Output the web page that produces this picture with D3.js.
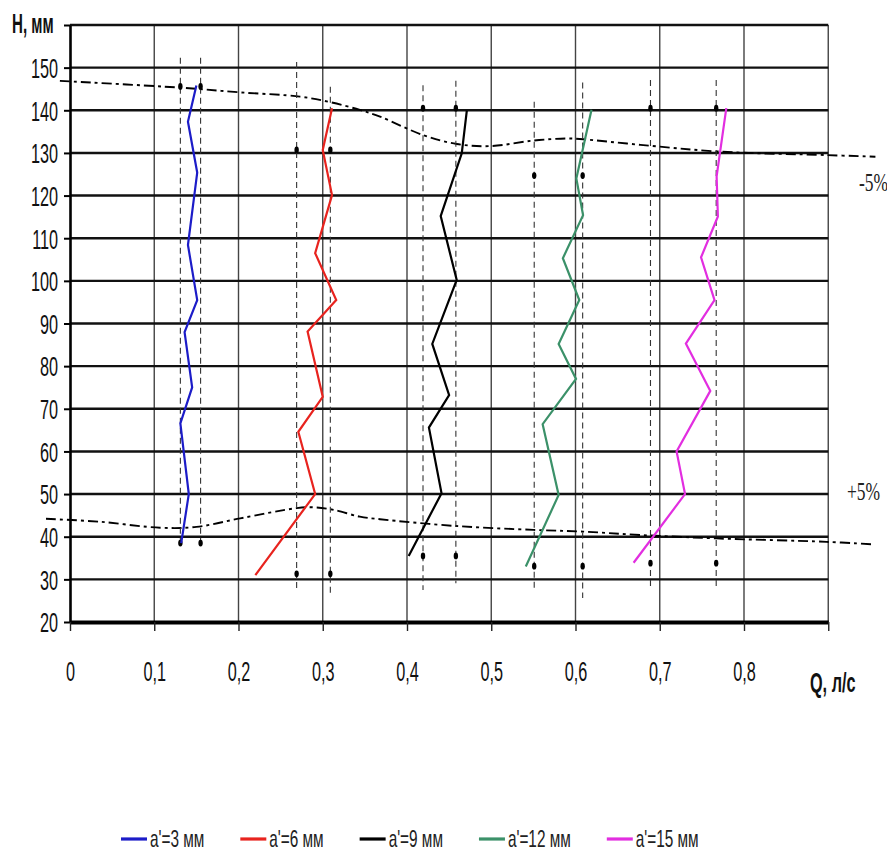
<!DOCTYPE html>
<html><head><meta charset="utf-8">
<script src="https://cdn.jsdelivr.net/npm/d3@7"></script>
<style>
html,body{margin:0;padding:0;background:#fff;}
svg{display:block;}
</style></head>
<body>
<svg id="chart" width="887" height="854"></svg>
<script>
// ---------- data ----------
const hTicks = [20,30,40,50,60,70,80,90,100,110,120,130,140,150,160];
const qTicks = [0,0.1,0.2,0.3,0.4,0.5,0.6,0.7,0.8,0.9];
const qTickLabels = ["0","0,1","0,2","0,3","0,4","0,5","0,6","0,7","0,8",""];

const seriesNames = ["a'=3 мм","a'=6 мм","a'=9 мм","a'=12 мм","a'=15 мм"];
const seriesColors = ["#1c1cc8","#e8231e","#000000","#3b9169","#e22ee0"];

const h3 = [145.8,137.3,125.4,108.4,95.5,88.0,75.0,66.6,50.0,38.5];
const q3 = [0.150,0.140,0.151,0.140,0.151,0.136,0.145,0.131,0.141,0.132];
const h6 = [140.5,130.7,120.1,106.5,95.5,88.1,72.8,64.6,50.0,31.0];
const q6 = [0.311,0.300,0.311,0.291,0.316,0.282,0.300,0.271,0.291,0.220];
const h9 = [139.9,129.9,115.2,100.2,85.2,73.2,65.6,50.2,35.5];
const q9 = [0.471,0.465,0.440,0.459,0.430,0.450,0.426,0.441,0.402];
const h12 = [140.1,124.0,115.4,105.3,95.5,85.2,77.0,66.4,49.8,33.0];
const q12 = [0.619,0.601,0.609,0.585,0.6045,0.580,0.6006,0.561,0.580,0.541];
const h15 = [140.5,124.5,115.1,105.5,95.5,85.3,74.2,60.0,50.0,33.9];
const q15 = [0.779,0.7675,0.769,0.749,0.765,0.731,0.760,0.720,0.730,0.669];

// dashed bound lines for each series
const boundLowQ = [0.131,0.269,0.419,0.551,0.689];
const boundHighQ = [0.155,0.309,0.458,0.6085,0.767];
const boundLowTopH = [152.3,151.3,145.9,142.0,147.1];
const boundHighTopH = [152.3,145.5,146.9,146.5,147.1];
const boundLowBottomH = [37.6,27.5,27.5,27.5,28.2];
const boundHighBottomH = [37.6,26.8,29.1,25.6,28.2];
const dotTopH = [145.6,130.7,140.5,124.7,140.5];
const dotBottomH = [38.5,31.3,35.5,33.1,33.8];

// dash-dot envelope curves
const upperQ = [-0.012,0.131,0.202,0.273,0.309,0.344,0.368,0.419,0.459,0.4985,0.550,0.590,0.609,0.677,0.772,0.898,0.956];
const upperH = [146.9,145.3,144.2,143.2,141.9,140.1,138.5,134.2,132.1,131.6,132.9,133.4,133.2,131.9,130.3,129.5,129.1];
const lowerQ = [-0.0285,0.036,0.107,0.150,0.202,0.269,0.289,0.313,0.344,0.368,0.459,0.550,0.609,0.677,0.7675,0.898,0.953];
const lowerH = [44.2,43.5,42.1,42.3,44.3,46.7,46.9,46.3,44.7,44.1,42.5,41.6,41.2,40.4,39.6,38.8,38.2];
const upperLabel = "-5%";
const lowerLabel = "+5%";
const yTitle = "H, мм";
const xTitle = "Q, л/с";

// ---------- drawing ----------
const svg = d3.select("#chart");
const x = d3.scaleLinear().domain([0,0.9]).range([70,828.25]);
const y = d3.scaleLinear().domain([20,160]).range([622,25]);
const SX = 0.58;
const sans = "'Liberation Sans', Arial, sans-serif";
const serif = "'Liberation Serif', 'Times New Roman', serif";

// vertical grid
svg.append("g").selectAll("line").data(qTicks.slice(1)).join("line")
  .attr("x1",d=>x(d)).attr("x2",d=>x(d)).attr("y1",y(160)).attr("y2",y(20))
  .attr("stroke","#444").attr("stroke-width",1.4);
// horizontal grid
svg.append("g").selectAll("line").data(hTicks.slice(1)).join("line")
  .attr("x1",x(0)).attr("x2",x(0.9)).attr("y1",d=>y(d)).attr("y2",d=>y(d))
  .attr("stroke","#111").attr("stroke-width",2.4);

// left axis
const yAxis = d3.axisLeft(y).tickValues(hTicks).tickSize(6).tickSizeOuter(0)
  .tickFormat(d=> d===160 ? "" : String(d));
const gy = svg.append("g").attr("transform",`translate(${x(0)},0)`).call(yAxis);
gy.select(".domain").attr("stroke","#000").attr("stroke-width",2.6);
gy.selectAll(".tick line").attr("stroke","#000").attr("stroke-width",2);
gy.selectAll(".tick text").attr("font-family",sans).attr("font-size",28).attr("fill","#111")
  .attr("x",-12/SX).attr("dy","0.35em").attr("transform",`scale(${SX},1)`);

// bottom axis
const xAxis = d3.axisBottom(x).tickValues(qTicks).tickSize(9).tickSizeOuter(0)
  .tickFormat((d,i)=>qTickLabels[i]);
const gx = svg.append("g").attr("transform",`translate(0,${y(20)})`).call(xAxis);
gx.select(".domain").attr("stroke","#000").attr("stroke-width",4.2);
gx.selectAll(".tick line").attr("stroke","#222").attr("stroke-width",1.4);
gx.selectAll(".tick text").attr("font-family",sans).attr("font-size",28).attr("fill","#111")
  .attr("y",49).attr("dy","0.35em").attr("transform",`scale(${SX},1)`)
  .attr("x",0);

// titles
svg.append("text").text(yTitle).attr("font-family",sans).attr("font-weight","bold")
  .attr("font-size",28).attr("fill","#111")
  .attr("transform",`translate(12,33) scale(0.54,1)`);
svg.append("text").text(xTitle).attr("font-family",sans).attr("font-weight","bold")
  .attr("font-size",28).attr("fill","#111")
  .attr("transform",`translate(810,692) scale(0.58,1)`);

// dash-dot envelope curves
const curveLine = d3.line().x(d=>x(d[0])).y(d=>y(d[1])).curve(d3.curveCatmullRom.alpha(0.5));
[[upperQ,upperH],[lowerQ,lowerH]].forEach(([qs,hs])=>{
  svg.append("path").datum(qs.map((q,i)=>[q,hs[i]])).attr("d",curveLine)
    .attr("fill","none").attr("stroke","#000").attr("stroke-width",1.9)
    .attr("stroke-dasharray","10,4,3,4");
});
svg.append("text").text(upperLabel).attr("font-family",serif).attr("font-size",25).attr("fill","#222")
  .attr("transform",`translate(859,191) scale(0.7,1)`);
svg.append("text").text(lowerLabel).attr("font-family",serif).attr("font-size",25).attr("fill","#222")
  .attr("transform",`translate(847,500) scale(0.7,1)`);

// dashed bound lines and dots
const gb = svg.append("g");
boundLowQ.forEach((q,i)=>{
  gb.append("line").attr("x1",x(q)).attr("x2",x(q)).attr("y1",y(boundLowTopH[i])).attr("y2",y(boundLowBottomH[i]))
    .attr("stroke","#333").attr("stroke-width",1.1).attr("stroke-dasharray","6,4");
  gb.append("line").attr("x1",x(boundHighQ[i])).attr("x2",x(boundHighQ[i])).attr("y1",y(boundHighTopH[i])).attr("y2",y(boundHighBottomH[i]))
    .attr("stroke","#333").attr("stroke-width",1.1).attr("stroke-dasharray","6,4");
  [q,boundHighQ[i]].forEach(qq=>{
    [dotTopH[i],dotBottomH[i]].forEach(hh=>{
      gb.append("ellipse").attr("cx",x(qq)).attr("cy",y(hh)).attr("rx",2.2).attr("ry",3.4).attr("fill","#000");
    });
  });
});

// series lines
const seriesH = [h3,h6,h9,h12,h15];
const seriesQ = [q3,q6,q9,q12,q15];
const line = d3.line().x(d=>x(d[0])).y(d=>y(d[1]));
seriesH.forEach((hs,i)=>{
  svg.append("path").datum(hs.map((h,j)=>[seriesQ[i][j],h])).attr("d",line)
    .attr("fill","none").attr("stroke",seriesColors[i]).attr("stroke-width",2.2)
    .attr("stroke-linejoin","miter");
});

// legend (flow layout)
const legendScale = 0.64;
let lx = 121;
const ly = 839;
seriesNames.forEach((name,i)=>{
  svg.append("line").attr("x1",lx).attr("x2",lx+26).attr("y1",ly).attr("y2",ly)
    .attr("stroke",seriesColors[i]).attr("stroke-width",3.2);
  const t = svg.append("text").text(name).attr("font-family",sans).attr("font-size",24).attr("fill","#222")
    .attr("transform",`translate(${lx+29},${ly+8}) scale(${legendScale},1)`);
  const w = t.node().getComputedTextLength()*legendScale;
  lx += 29 + w + 36;
});
</script>
</body></html>
